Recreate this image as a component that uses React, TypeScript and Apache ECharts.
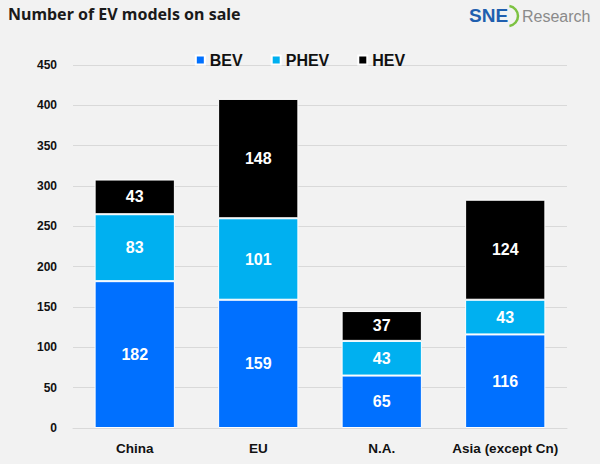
import React, { useEffect, useRef } from "react";
import * as echarts from "echarts";

const categories = ["China", "EU", "N.A.", "Asia (except Cn)"];
const bev = [182, 159, 65, 116];
const phev = [83, 101, 43, 43];
const hev = [43, 148, 37, 124];

export default function App() {
  const ref = useRef<HTMLDivElement>(null);
  useEffect(() => {
    document.body.style.margin = "0";
    if (!ref.current) return;
    const chart = echarts.init(ref.current, undefined, { renderer: "svg" });
    const label = {
      show: true,
      position: "inside",
      color: "#fff",
      fontWeight: "bold",
      fontSize: 16,
      fontFamily: "Arial, Liberation Sans, sans-serif",
    };
    const mk = (name: string, data: number[], color: string) => ({
      name,
      type: "bar",
      stack: "total",
      data,
      barWidth: "65%",
      itemStyle: { color, borderColor: "#ffffff", borderWidth: 1 },
      label,
    });
    chart.setOption({
      animation: false,
      backgroundColor: "#F2F2F2",
      textStyle: { fontFamily: "Arial, Liberation Sans, sans-serif" },
      graphic: [
        {
          type: "text",
          left: 8,
          top: 6,
          style: {
            text: "Number of EV models on sale",
            fontSize: 16,
            fontWeight: "bold",
            fill: "#1a1a1a",
            fontFamily: "Noto Sans, Open Sans, sans-serif",
          },
        },
        {
          type: "text",
          left: 469,
          top: 6,
          style: {
            text: "SNE",
            fontSize: 19,
            fontWeight: "bold",
            fill: "#1F5FAF",
            fontFamily: "Arial, Liberation Sans, sans-serif",
          },
        },
        {
          type: "arc",
          shape: { cx: 508, cy: 16, r: 10, startAngle: -Math.PI / 2.2, endAngle: Math.PI / 2.2 },
          style: { stroke: "#7DC242", lineWidth: 2.5, fill: "none" },
        },
        {
          type: "text",
          left: 522,
          top: 8,
          style: {
            text: "Research",
            fontSize: 16,
            fill: "#8a8a8a",
            fontFamily: "Arial, Liberation Sans, sans-serif",
          },
        },
      ],
      legend: {
        top: 47,
        left: "center",
        itemWidth: 9,
        itemHeight: 9,
        itemGap: 28,
        icon: "rect",
        textStyle: { fontSize: 16, fontWeight: "bold", color: "#111" },
        data: ["BEV", "PHEV", "HEV"],
      },
      grid: { left: 73, right: 33, top: 65, bottom: 36 },
      xAxis: {
        type: "category",
        data: categories,
        axisLine: { show: true, lineStyle: { color: "#d9d9d9" } },
        axisTick: { show: false },
        axisLabel: { fontSize: 13.5, fontWeight: "bold", color: "#111", margin: 13, interval: 0 },
      },
      yAxis: {
        type: "value",
        min: 0,
        max: 450,
        interval: 50,
        splitLine: { lineStyle: { color: "#d9d9d9" } },
        axisLabel: { fontSize: 12, fontWeight: "bold", color: "#111", margin: 16 },
      },
      series: [
        mk("BEV", bev, "#0070FF"),
        mk("PHEV", phev, "#00B0F0"),
        mk("HEV", hev, "#000000"),
      ],
    });
    return () => chart.dispose();
  }, []);
  return <div ref={ref} style={{ width: 600, height: 464 }} />;
}
